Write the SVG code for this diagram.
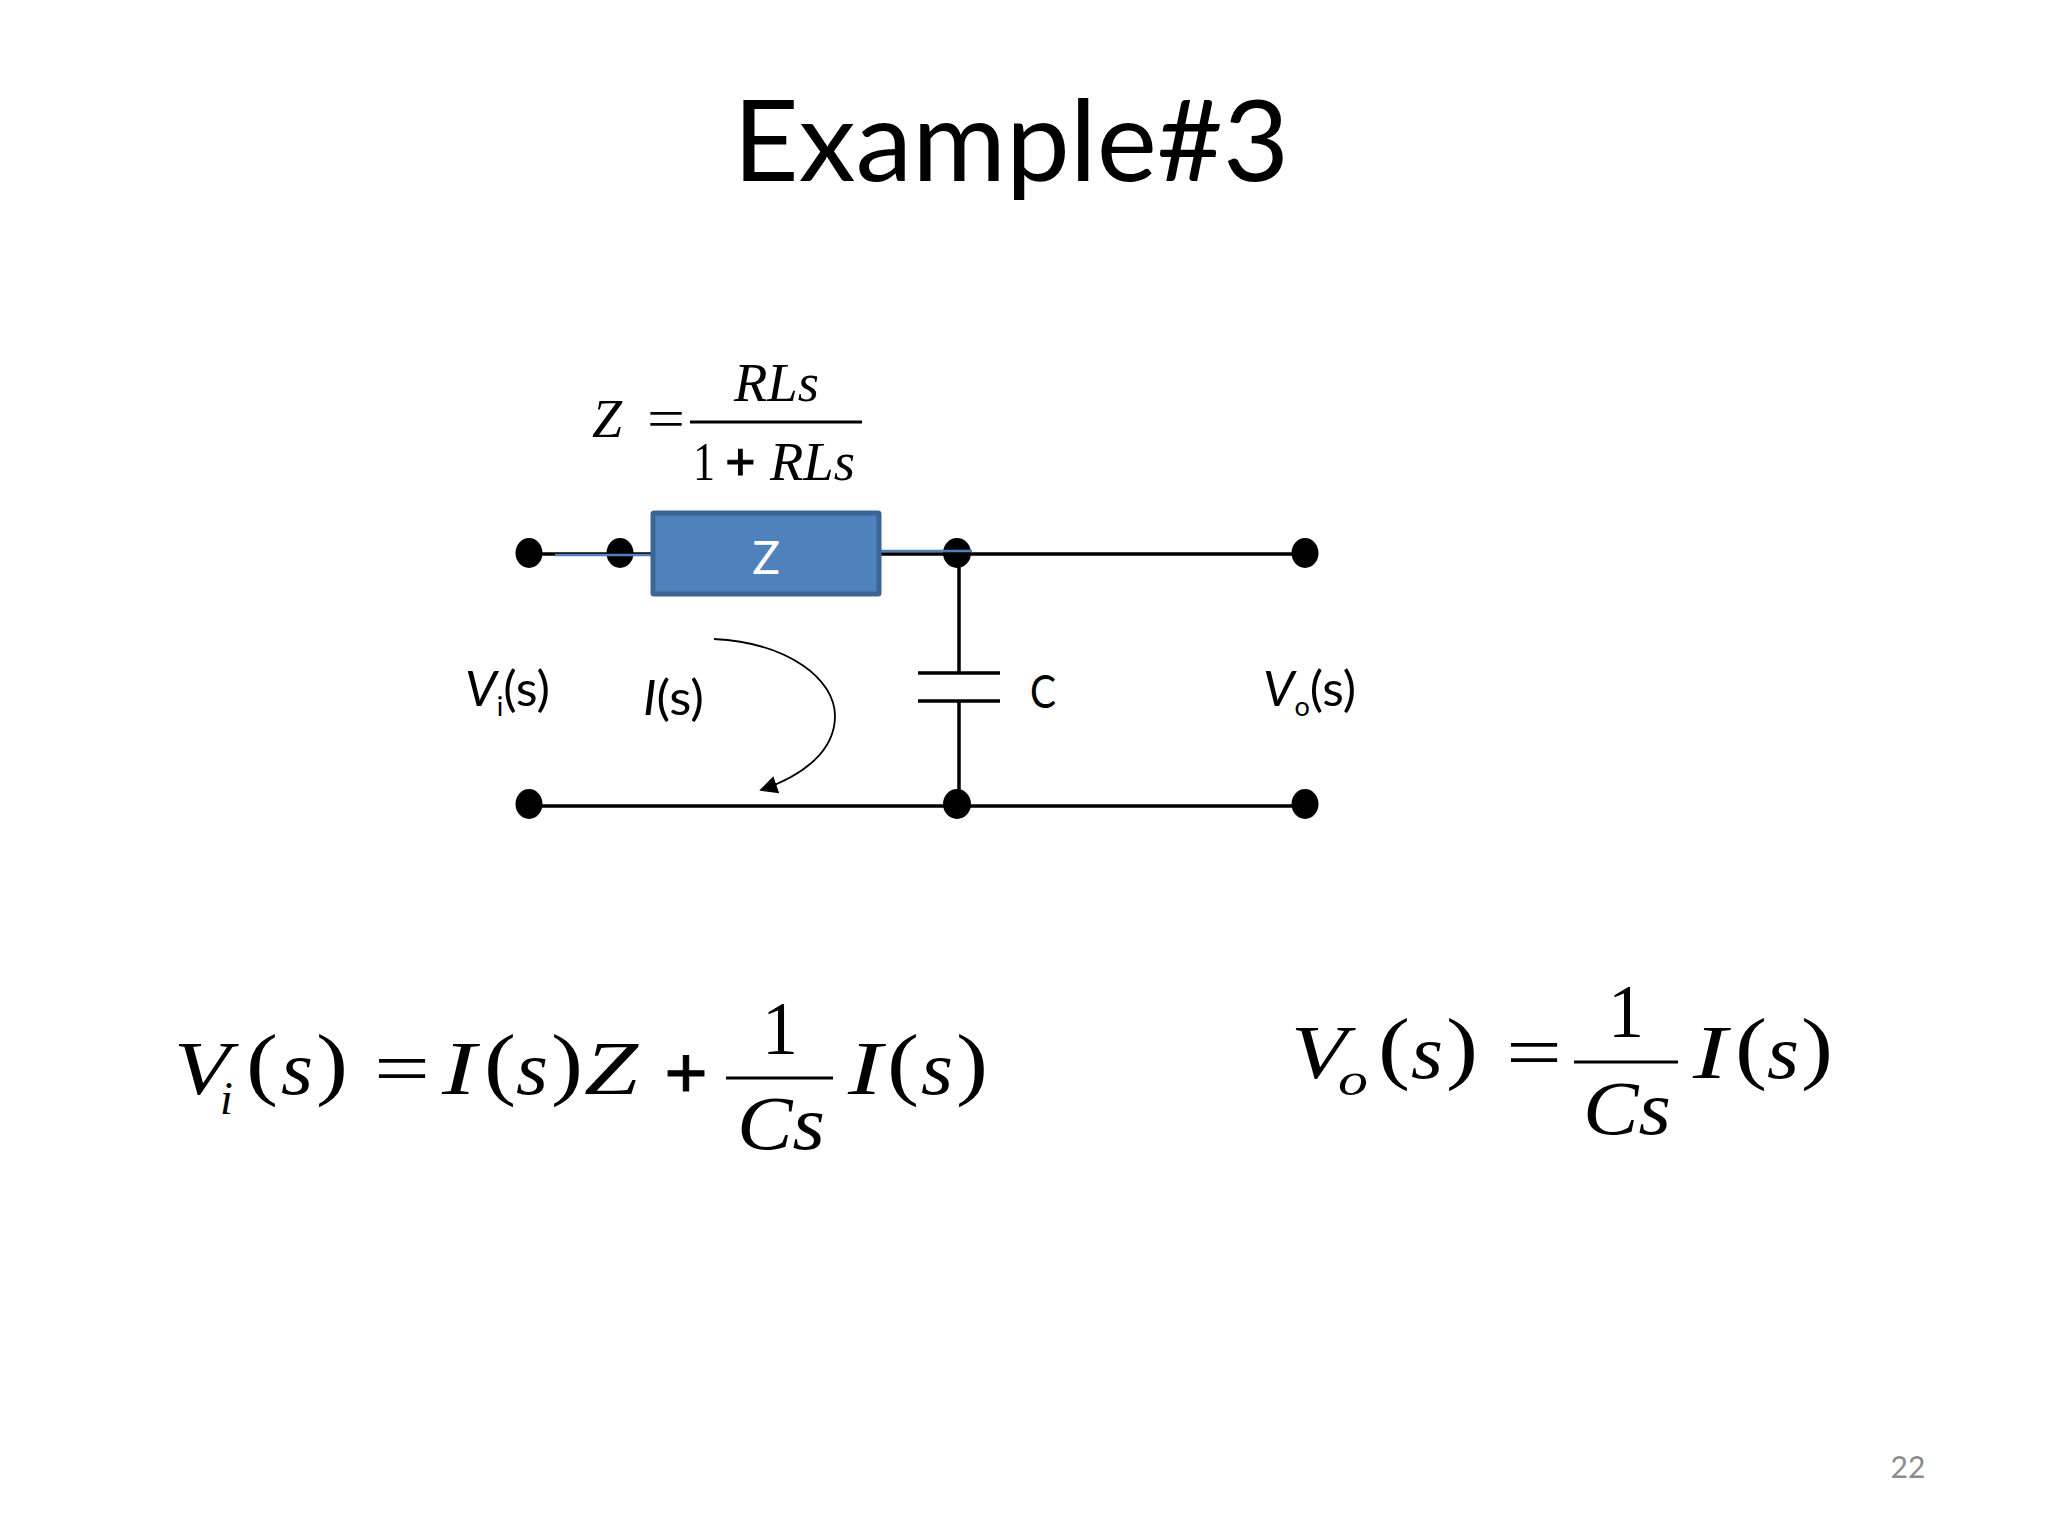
<svg xmlns="http://www.w3.org/2000/svg" width="2048" height="1536" viewBox="0 0 2048 1536">
<style>
.t{font-family:"Liberation Serif","Times New Roman",serif;fill:#000}
.i{font-style:italic}
.l{font-family:Lato,"Open Sans",sans-serif;fill:#000}
.w{stroke:#000;stroke-width:3.5;fill:none}
.b{stroke:#4f81bd;stroke-width:2.5;fill:none}
.f{stroke:#000;stroke-width:3;fill:none}
.d{fill:#000}
.m{font-size:54px}
.e{font-size:76px}
.p{font-size:80px}
.s{font-size:48px}
.x{stroke:#000;stroke-width:1}
</style>
<defs>
<marker id="arr" viewBox="0 0 10 10" refX="9" refY="5" markerWidth="18" markerHeight="18" markerUnits="userSpaceOnUse" orient="auto"><path d="M0 0L10 5L0 10Z" fill="#000"/></marker>
</defs>
<rect width="2048" height="1536" fill="#fff"/>
<text id="title" class="l" x="1011" y="181" font-size="112" text-anchor="middle" textLength="556" lengthAdjust="spacingAndGlyphs">Example#3</text>
<g id="connectors">
<path class="w" d="M529 554H652M880 554H1305M529 806H1305M959 554V673M959 701V803"/>
<path class="w" d="M918 673H1000M918 701H1000" stroke-width="4"/>
<path d="M714 639C790 643 835 680 835 716C835 750 805 775 761 790" fill="none" stroke="#000" stroke-width="1.8" marker-end="url(#arr)"/>
</g>
<g id="terminals">
<ellipse class="d" cx="529" cy="553" rx="13.500" ry="15"/>
<ellipse class="d" cx="620" cy="553" rx="13.500" ry="15"/>
<ellipse class="d" cx="957" cy="553" rx="14" ry="15"/>
<ellipse class="d" cx="1305" cy="553" rx="13.500" ry="15"/>
<ellipse class="d" cx="529" cy="804" rx="13.500" ry="15"/>
<ellipse class="d" cx="957" cy="804" rx="14" ry="15"/>
<ellipse class="d" cx="1305" cy="804" rx="13.500" ry="15"/>
</g>
<g id="connector-highlights">
<path class="b" d="M555 555H652M880 551H972"/>
</g>
<g id="z-box">
<rect x="653" y="513" width="226" height="81" rx="1" fill="#4f81bd" stroke="#3d6594" stroke-width="5" stroke-linejoin="round"/>
<text class="l" font-size="46" x="766" y="574" text-anchor="middle" style="fill:#fff">Z</text>
</g>
<g id="circuit-labels">
<text class="l s" x="465" y="706" textLength="85" lengthAdjust="spacingAndGlyphs"><tspan font-style="italic">V</tspan><tspan font-size="26" dy="10">i</tspan><tspan dy="-10">(s)</tspan></text>
<text class="l s" x="643" y="715" textLength="61" lengthAdjust="spacingAndGlyphs"><tspan font-style="italic">I</tspan>(s)</text>
<text class="l" font-size="46" x="1030" y="708" textLength="26" lengthAdjust="spacingAndGlyphs">C</text>
<text class="l s" x="1263" y="706" textLength="93" lengthAdjust="spacingAndGlyphs"><tspan font-style="italic">V</tspan><tspan font-size="26" dy="10">o</tspan><tspan dy="-10">(s)</tspan></text>
</g>
<g id="z-formula">
<text class="t i m" x="592" y="437">Z</text>
<text class="t m" x="647" y="437" textLength="38" lengthAdjust="spacingAndGlyphs">=</text>
<text class="t i m" x="734" y="401" textLength="85" lengthAdjust="spacingAndGlyphs">RLs</text>
<path class="f" d="M690 422H862"/>
<text class="t m" x="693" y="480" textLength="22" lengthAdjust="spacingAndGlyphs">1</text>
<text class="t m x" x="725" y="480" font-weight="bold">+</text>
<text class="t i m" x="770" y="480" textLength="85" lengthAdjust="spacingAndGlyphs">RLs</text>
</g>
<g id="eq-vi">
<text class="t i e" x="174" y="1094" textLength="56" lengthAdjust="spacingAndGlyphs">V</text>
<text class="t i" font-size="46" x="220" y="1114">i</text>
<text class="t p" x="246" y="1090" textLength="32" lengthAdjust="spacingAndGlyphs">(</text>
<text class="t i e" x="281" y="1094" textLength="32" lengthAdjust="spacingAndGlyphs">s</text>
<text class="t p" x="316" y="1090" textLength="32" lengthAdjust="spacingAndGlyphs">)</text>
<text class="t e" x="374" y="1094" textLength="56" lengthAdjust="spacingAndGlyphs">=</text>
<text class="t i e" x="442" y="1094" textLength="34" lengthAdjust="spacingAndGlyphs">I</text>
<text class="t p" x="484" y="1090" textLength="32" lengthAdjust="spacingAndGlyphs">(</text>
<text class="t i e" x="516" y="1094" textLength="32" lengthAdjust="spacingAndGlyphs">s</text>
<text class="t p" x="551" y="1090" textLength="32" lengthAdjust="spacingAndGlyphs">)</text>
<text class="t i e" x="584" y="1094" textLength="54" lengthAdjust="spacingAndGlyphs">Z</text>
<text class="t e x" x="664" y="1099" font-weight="bold" textLength="44" lengthAdjust="spacingAndGlyphs">+</text>
<path class="f" d="M726 1078H833" stroke-width="4"/>
<text class="t e" x="762" y="1054" textLength="36" lengthAdjust="spacingAndGlyphs">1</text>
<text class="t i e" x="737" y="1149" textLength="88" lengthAdjust="spacingAndGlyphs">Cs</text>
<text class="t i e" x="848" y="1094" textLength="34" lengthAdjust="spacingAndGlyphs">I</text>
<text class="t p" x="887" y="1090" textLength="32" lengthAdjust="spacingAndGlyphs">(</text>
<text class="t i e" x="921" y="1094" textLength="32" lengthAdjust="spacingAndGlyphs">s</text>
<text class="t p" x="956" y="1090" textLength="32" lengthAdjust="spacingAndGlyphs">)</text>
</g>
<g id="eq-vo">
<text class="t i e" x="1291" y="1078" textLength="56" lengthAdjust="spacingAndGlyphs">V</text>
<text class="t i" font-size="46" x="1338" y="1095" textLength="30" lengthAdjust="spacingAndGlyphs">o</text>
<text class="t p" x="1378" y="1074" textLength="32" lengthAdjust="spacingAndGlyphs">(</text>
<text class="t i e" x="1411" y="1078" textLength="32" lengthAdjust="spacingAndGlyphs">s</text>
<text class="t p" x="1446" y="1074" textLength="32" lengthAdjust="spacingAndGlyphs">)</text>
<text class="t e" x="1506" y="1078" textLength="56" lengthAdjust="spacingAndGlyphs">=</text>
<path class="f" d="M1574 1062H1678" stroke-width="4"/>
<text class="t e" x="1608" y="1037" textLength="36" lengthAdjust="spacingAndGlyphs">1</text>
<text class="t i e" x="1583" y="1134" textLength="88" lengthAdjust="spacingAndGlyphs">Cs</text>
<text class="t i e" x="1693" y="1078" textLength="34" lengthAdjust="spacingAndGlyphs">I</text>
<text class="t p" x="1735" y="1074" textLength="32" lengthAdjust="spacingAndGlyphs">(</text>
<text class="t i e" x="1767" y="1078" textLength="32" lengthAdjust="spacingAndGlyphs">s</text>
<text class="t p" x="1801" y="1074" textLength="32" lengthAdjust="spacingAndGlyphs">)</text>
</g>
<text id="page" x="1908" y="1478" font-family="Lato,sans-serif" font-size="30" fill="#8b8b8b" text-anchor="middle">22</text>
</svg>
